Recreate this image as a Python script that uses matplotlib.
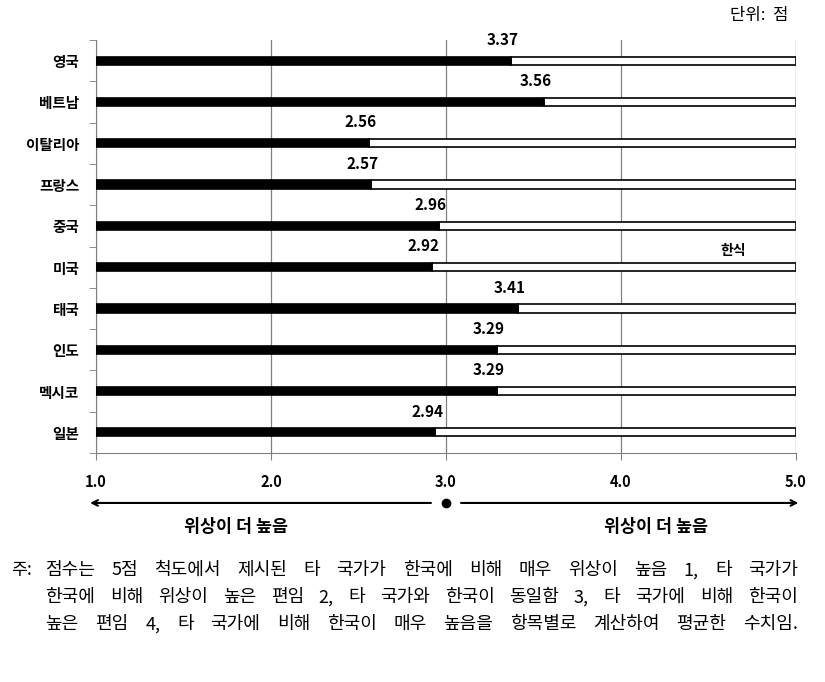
import matplotlib.pyplot as plt

plt.rcParams['font.family'] = ['Noto Sans CJK KR', 'DejaVu Sans']

countries = ['영국', '베트남', '이탈리아', '프랑스', '중국', '미국', '태국', '인도', '멕시코', '일본']
scores = [3.37, 3.56, 2.56, 2.57, 2.96, 2.92, 3.41, 3.29, 3.29, 2.94]
x_ticks = [1.0, 2.0, 3.0, 4.0, 5.0]
x_min, x_max = 1.0, 5.0
notes = ['점수는 5점 척도에서 제시된 타 국가가 한국에 비해 매우 위상이 높음 1, 타 국가가',
         '한국에 비해 위상이 높은 편임 2, 타 국가와 한국이 동일함 3, 타 국가에 비해 한국이',
         '높은 편임 4, 타 국가에 비해 한국이 매우 높음을 항목별로 계산하여 평균한 수치임.']

fig = plt.figure(figsize=(8.25, 6.82), dpi=100)
ax = fig.add_axes([0.1164, 0.3358, 0.8484, 0.6055])

ypos = list(range(len(countries)))
# white remainder bar with outline, then black score bar
ax.barh(ypos, [x_max - s for s in scores], left=scores, height=0.2,
        color='white', edgecolor='black', linewidth=1.2, zorder=3)
ax.barh(ypos, [s - x_min for s in scores], left=x_min, height=0.2,
        color='black', edgecolor='black', linewidth=1.2, zorder=4)

for y, s in zip(ypos, scores):
    ax.annotate(f'{s:.2f}', (s, y), xytext=(-6, 15), textcoords='offset points',
                ha='center', va='center', fontsize=11, fontweight='bold', zorder=5)

ax.set_xlim(x_min, x_max)
ax.set_ylim(len(countries) - 0.5, -0.5)
ax.set_xticks(x_ticks)
ax.set_xticklabels([f'{t:.1f}' for t in x_ticks], fontweight='bold', fontsize=10.5)
ax.set_yticks(ypos)
ax.set_yticklabels(countries, fontweight='bold', fontsize=10.5)
ax.set_yticks([y - 0.5 for y in ypos] + [len(countries) - 0.5], minor=True)
ax.tick_params(axis='y', which='major', length=0, pad=12)
ax.tick_params(axis='y', which='minor', length=5, color='#808080')
ax.tick_params(axis='x', length=5, color='#808080', pad=10)
ax.grid(axis='x', color='#808080', linewidth=0.9, zorder=0)
for side in ['top', 'right']:
    ax.spines[side].set_visible(False)
for side in ['left', 'bottom']:
    ax.spines[side].set_color('#808080')

ax.text(4.64, 4.6, '한식', ha='center', va='center', fontsize=10, fontweight='bold')

# direction arrows below the axis
tr = ax.get_xaxis_transform()
ax.annotate('', xy=(0.95, -0.121), xytext=(2.93, -0.121), xycoords=tr, textcoords=tr,
            arrowprops=dict(arrowstyle='->', color='black', lw=1.5), annotation_clip=False)
ax.annotate('', xy=(5.03, -0.121), xytext=(3.07, -0.121), xycoords=tr, textcoords=tr,
            arrowprops=dict(arrowstyle='->', color='black', lw=1.5), annotation_clip=False)
ax.plot([3.0], [-0.121], 'o', color='black', markersize=6, transform=tr, clip_on=False)
ax.text(1.8, -0.18, '위상이 더 높음', transform=tr, ha='center', va='center',
        fontsize=12.5, fontweight='bold')
ax.text(4.2, -0.18, '위상이 더 높음', transform=tr, ha='center', va='center',
        fontsize=12.5, fontweight='bold')

fig.text(0.955, 0.978, '단위:  점', ha='right', va='center', fontsize=12)

# justified footnote
fig.text(0.013, 0.164, '주:', ha='left', va='center', fontsize=12.5)
renderer = fig.canvas.get_renderer()
x_left, x_right = 0.055, 0.967
for i, line in enumerate(notes):
    y = 0.164 - i * 0.0396
    words = line.split(' ')
    texts = [fig.text(0, y, w, ha='left', va='center', fontsize=13) for w in words]
    widths = [t.get_window_extent(renderer).width / fig.bbox.width for t in texts]
    gap = (x_right - x_left - sum(widths)) / (len(words) - 1)
    x = x_left
    for t, w in zip(texts, widths):
        t.set_x(x)
        x += w + gap

fig.savefig('out.png')
